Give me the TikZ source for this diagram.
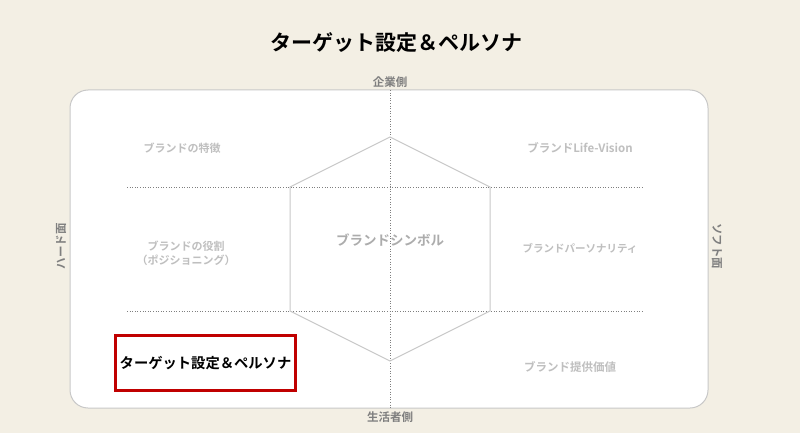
\documentclass[tikz,border=0pt]{standalone}
\usepackage{fontspec}
\newfontfamily\jp{Noto Sans CJK JP Bold}
\definecolor{bg}{HTML}{F3EFE4}
\definecolor{frame}{HTML}{C8C8C8}
\definecolor{lab}{HTML}{BFBFBF}
\definecolor{side}{HTML}{7F7F7F}
\definecolor{redb}{HTML}{C00000}
\begin{document}
\begin{tikzpicture}[x=1pt,y=-1pt,
  quad/.style={font=\jp\fontsize{11}{14}\selectfont,text=lab,inner sep=0pt,align=center},
  axis/.style={font=\jp\fontsize{11.5}{13}\selectfont,text=side,inner sep=0pt},
  dotline/.style={draw=side,line width=0.6pt,dotted},
  hexline/.style={draw=frame,line width=1pt}]
\fill[bg] (0,0) rectangle (800,433);
\useasboundingbox (0,0) rectangle (800,433);
\node[draw=frame,line width=1pt,fill=white,rounded corners=18pt,minimum width=638pt,minimum height=318pt,inner sep=0pt] (board) at (389,249) {};
\node[font=\jp\fontsize{21}{24}\selectfont,inner sep=0pt] (title) at (396,43) {ターゲット設定＆ペルソナ};
% axes
\coordinate (vt) at (390,90);
\coordinate (vb) at (390,408);
\coordinate (h1l) at (127,187);
\coordinate (h1r) at (643,187);
\coordinate (h2l) at (127,311);
\coordinate (h2r) at (643,311);
\draw[dotline] (vt) -- (vb);
\draw[dotline] (h1l) -- (h1r);
\draw[dotline] (h2l) -- (h2r);
% hexagon
\coordinate (p1) at (390,137);
\coordinate (p2) at (490,187);
\coordinate (p3) at (490,311);
\coordinate (p4) at (390,361);
\coordinate (p5) at (290,311);
\coordinate (p6) at (290,187);
\draw[hexline] (p1) -- (p2) -- (p3) -- (p4) -- (p5) -- (p6) -- cycle;
% labels
\node[axis] (top) at (390,82) {企業側};
\node[axis] (bot) at (390,417) {生活者側};
\node[axis,rotate=90] (left) at (61,246) {ハード面};
\node[axis,rotate=-90] (right) at (717,246) {ソフト面};
\node[quad] (q1) at (182,148) {ブランドの特徴};
\node[quad,font=\jp\fontsize{11.5}{14}\selectfont] (q2) at (580,148) {ブランドLife-Vision};
\node[quad] (q3) at (186,253) {ブランドの役割\\（ポジショニング）};
\node[quad,font=\jp\fontsize{10.5}{14}\selectfont] (q4) at (580,248) {ブランドパーソナリティ};
\node[quad,font=\jp\fontsize{11.5}{14}\selectfont] (q6) at (570,367) {ブランド提供価値};
\node[quad,font=\jp\fontsize{13.5}{16}\selectfont,text=lab!90!black] (sym) at (390,240) {ブランドシンボル};
\node[draw=redb,line width=2.6pt,fill=white,minimum width=180pt,minimum height=55pt,inner sep=0pt,font=\jp\fontsize{14.3}{17}\selectfont] (target) at (205.5,363) {ターゲット設定＆ペルソナ};
\end{tikzpicture}
\end{document}
